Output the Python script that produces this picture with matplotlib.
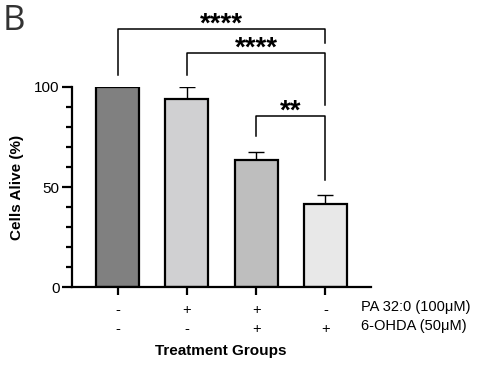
import matplotlib.pyplot as plt
import numpy as np

groups = ["Control", "PA", "PA + 6-OHDA", "6-OHDA"]
pa_signs = ["-", "+", "+", "-"]
ohda_signs = ["-", "-", "+", "+"]
means = [100, 94, 63.5, 41.5]
errors = [0, 6, 4, 4.3]
colors = ["#808080", "#d0d0d2", "#bebebe", "#e8e8e8"]

# significance brackets: (left bar, right bar, height, left leg end, right leg end, label)
brackets = [
    (0, 3, 128.8, 105.7, 122.0, "****"),
    (1, 3, 117.0, 105.7, 90.7, "****"),
    (2, 3, 85.5, 75.3, 53.7, "**"),
]

plt.rcParams["font.family"] = ["Liberation Sans", "DejaVu Sans"]

W, H = 479, 367
fig = plt.figure(figsize=(W / 100, H / 100), dpi=100)
ax = fig.add_axes([72 / W, 1 - 287.3 / H, (371 - 72) / W, 200.6 / H])

x = np.arange(len(groups))
ax.bar(x, means, width=0.62, color=colors, edgecolor="black", linewidth=1.6, zorder=2)
ax.errorbar(x[1:], means[1:], yerr=[np.zeros(3), errors[1:]], fmt="none",
            ecolor="black", elinewidth=1.0, capsize=6, capthick=1.0, zorder=1)

for left, right, h, l_end, r_end, label in brackets:
    ax.plot([left, left, right, right], [l_end, h, h, r_end], color="black",
            lw=1.1, clip_on=False)
    ax.text((left + right) / 2, h - 1.5, label, ha="center", va="baseline",
            fontsize=20, fontweight="bold", clip_on=False)

ax.set_xlim(-0.657, 3.658)
ax.set_ylim(0, 100)
ax.set_yticks([0, 50, 100])
ax.set_yticks(np.arange(0, 101, 10), minor=True)
ax.tick_params(axis="y", which="major", length=7, width=1.6, labelsize=11, pad=2)
ax.tick_params(axis="y", which="minor", length=4.5, width=1.6)
ax.set_xticks(x)
ax.set_xticklabels([f"{a}\n{b}" for a, b in zip(pa_signs, ohda_signs)],
                   linespacing=1.45)
ax.tick_params(axis="x", length=6, width=1.6, labelsize=10.5, pad=5)

for side in ["top", "right"]:
    ax.spines[side].set_visible(False)
for side in ["left", "bottom"]:
    ax.spines[side].set_linewidth(1.6)

fig.text(361 / W, 1 - 307 / H, "PA 32:0 (100\u03bcM)", fontsize=10.5,
         ha="left", va="center")
fig.text(361 / W, 1 - 326 / H, "6-OHDA (50\u03bcM)", fontsize=10.5,
         ha="left", va="center")

fig.text(221 / W, 1 - 351 / H, "Treatment Groups", ha="center", va="center",
         fontsize=11, fontweight="bold")
fig.text(17 / W, 1 - 187 / H, "Cells Alive (%)", ha="center", va="center",
         rotation=90, fontsize=11, fontweight="bold")
fig.text(3 / W, 1 - 21 / H, "B", ha="left", va="center", fontsize=25,
         color="#333333", family="Open Sans")

fig.savefig("out.png", dpi=100)
